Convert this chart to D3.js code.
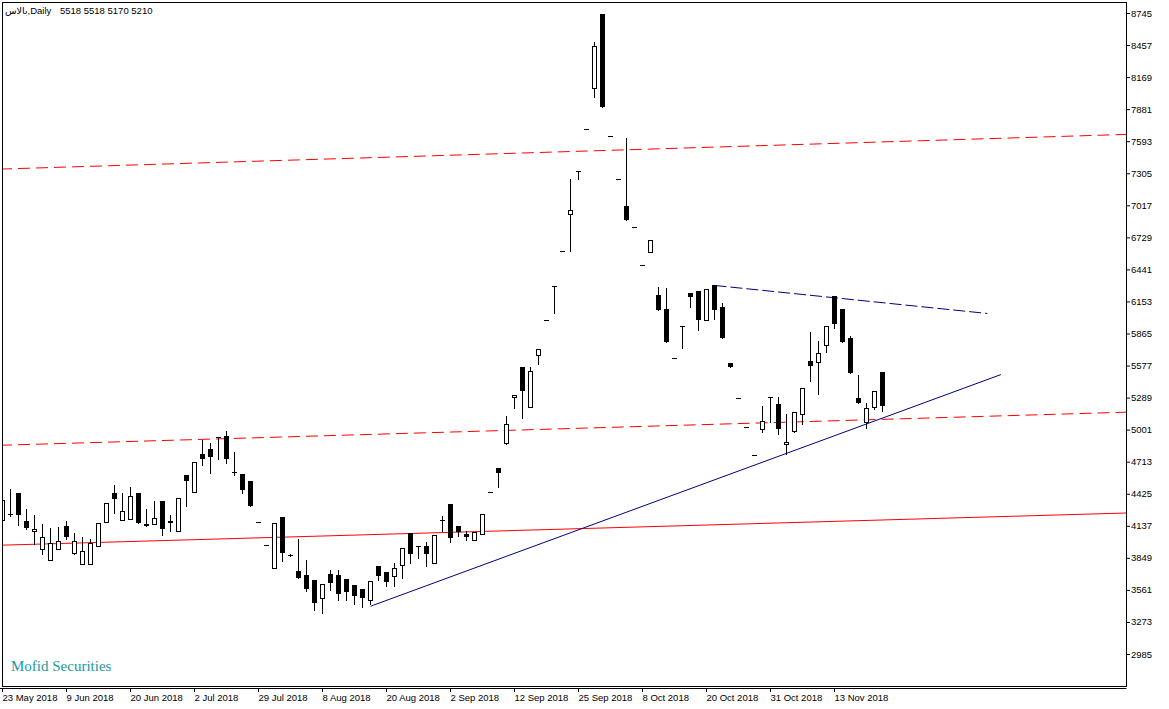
<!DOCTYPE html>
<html>
<head>
<meta charset="utf-8">
<script src="https://cdn.jsdelivr.net/npm/d3@7"></script>
<style>
    html, body { margin: 0; padding: 0; background: #fff; }
    svg { display: block; }
</style>
</head>
<body>
<script>
// Symbol and period shown in the top-left corner
var symbolName = "بالاس";
var period = "Daily";

// Date labels under the chart, one every 8 bars
var xLabels = ["23 May 2018", "9 Jun 2018", "20 Jun 2018", "2 Jul 2018", "29 Jul 2018",
    "8 Aug 2018", "20 Aug 2018", "2 Sep 2018", "12 Sep 2018", "25 Sep 2018",
    "8 Oct 2018", "20 Oct 2018", "31 Oct 2018", "13 Nov 2018"];
var xLabelBars = [0, 8, 16, 24, 32, 40, 48, 56, 64, 72, 80, 88, 96, 104];

// Price labels on the right
var yTicks = [8745, 8457, 8169, 7881, 7593, 7305, 7017, 6729, 6441, 6153, 5865,
    5577, 5289, 5001, 4713, 4425, 4137, 3849, 3561, 3273, 2985];

// Daily candles (open, high, low, close)
var opens = [4188, 4245, 4428, 4182, 4086, 3927, 3828, 3927, 4137, 3891,
    3792, 3792, 3954, 4170, 4428, 4188, 4194, 4434, 4152, 4152,
    4362, 4176, 4092, 4596, 4440, 4785, 4830, 4932, 4947, 4623,
    4605, 4542, 4173, 3966, 3762, 4218, 3876, 3732, 3696, 3651,
    3486, 3702, 3696, 3660, 3606, 3567, 3468, 3777, 3726, 3687,
    3783, 4068, 3951, 3957, 3801, 4188, 4332, 4137, 4065, 4005,
    4062, 4440, 4659, 4881, 5292, 5568, 5205, 5673, 5990, 6291,
    6603, 6936, 7328, 7703, 8074, 8736, 7637, 7251, 7011, 6819,
    6478, 6600, 6211, 6082, 5646, 5934, 6225, 6243, 5985, 6297,
    6099, 5604, 5286, 5028, 4776, 5007, 5298, 5232, 4872, 4989,
    5142, 5622, 5610, 5763, 6198, 6081, 5829, 5289, 5070, 5202,
    5518];
var highs = [4368, 4470, 4428, 4290, 4236, 4152, 4116, 4128, 4176, 4071,
    4038, 4020, 4164, 4344, 4506, 4428, 4488, 4434, 4290, 4362,
    4362, 4236, 4386, 4596, 4710, 4908, 4884, 4935, 4992, 4803,
    4605, 4542, 4173, 3966, 4164, 4218, 3885, 4020, 3831, 3651,
    3612, 3741, 3741, 3660, 3606, 3567, 3642, 3777, 3726, 3801,
    3936, 4068, 3953, 3993, 4056, 4227, 4332, 4137, 4092, 4083,
    4245, 4440, 4659, 5127, 5313, 5568, 5568, 5727, 5990, 6294,
    6603, 7253, 7328, 7703, 8484, 8736, 7637, 7251, 7622, 6819,
    6478, 6705, 6280, 6271, 5646, 5934, 6225, 6243, 6261, 6297,
    6135, 5604, 5286, 5028, 4776, 5217, 5298, 5298, 5142, 5160,
    5376, 5874, 5802, 5934, 6198, 6081, 5841, 5496, 5241, 5352,
    5518];
var lows = [4188, 4228, 4140, 4104, 3972, 3888, 3828, 3927, 4020, 3882,
    3792, 3792, 3954, 4170, 4248, 4188, 4194, 4158, 4134, 4152,
    4050, 4092, 4092, 4311, 4440, 4680, 4608, 4734, 4704, 4596,
    4428, 4311, 4173, 3966, 3762, 3822, 3864, 3672, 3552, 3384,
    3354, 3564, 3474, 3474, 3432, 3411, 3430, 3648, 3597, 3597,
    3672, 3807, 3852, 3780, 3801, 4086, 3987, 4044, 4011, 4005,
    4062, 4440, 4488, 4872, 5193, 5103, 5205, 5592, 5990, 6048,
    6603, 6609, 7251, 7703, 7993, 7903, 7637, 7251, 6888, 6819,
    6478, 6600, 6076, 5791, 5646, 5733, 6102, 5892, 5985, 5994,
    5823, 5562, 5286, 5028, 4776, 4977, 5067, 4962, 4782, 4980,
    5052, 5442, 5322, 5697, 5916, 5787, 5508, 5238, 5016, 5190,
    5170];
var closes = [4368, 4232, 4230, 4116, 4110, 4038, 3978, 4002, 4032, 4002,
    3912, 3978, 4164, 4344, 4380, 4272, 4404, 4158, 4134, 4206,
    4104, 4164, 4386, 4536, 4710, 4734, 4752, 4923, 4734, 4608,
    4455, 4311, 4173, 3966, 4164, 3897, 3870, 3672, 3567, 3447,
    3612, 3627, 3528, 3546, 3507, 3492, 3642, 3687, 3636, 3762,
    3936, 3888, 3945, 3888, 4056, 4180, 4026, 4083, 4032, 4083,
    4245, 4440, 4608, 5052, 5313, 5346, 5529, 5727, 5990, 6294,
    6603, 6975, 7322, 7703, 8448, 7903, 7637, 7251, 6888, 6819,
    6478, 6705, 6076, 5791, 5646, 5928, 6192, 5982, 6261, 6075,
    5823, 5562, 5286, 5028, 4776, 5079, 5292, 5007, 4890, 5160,
    5376, 5571, 5691, 5934, 5952, 5787, 5508, 5238, 5199, 5352,
    5210];

// Drawn lines: [bar, price] anchor pairs
var redTop = [[0, 7343], [140, 7653]];
var redMid = [[0, 4861], [140, 5157]];
var redLow = [[0, 3963], [140, 4251]];
var blueUp = [[46, 3414], [124.8, 5496]];
var blueDown = [[89, 6297], [123.1, 6045]];

window.onload = function(){

    var w = 1169, h = 709;
    var left = 2.5, right = 1126.5, top = 2.5, bottom = 686.5;
    var labelFont = "'Liberation Sans', Arial, sans-serif";

    var svg = d3.select("body")
        .append("svg")
        .attr("width", w)
        .attr("height", h)
        .style("background-color", "#fff");

    // bar index -> x, 8 px per bar
    var x = d3.scaleLinear()
        .domain([0, 140])
        .range([2.5, 1122.5]);

    var y = d3.scaleLinear()
        .domain([2985, 8745])
        .range([654, 13]);

    svg.append("clipPath")
        .attr("id", "plot")
        .append("rect")
        .attr("x", 3).attr("y", 3)
        .attr("width", right - 3).attr("height", bottom - 3);

    var plot = svg.append("g").attr("clip-path", "url(#plot)");

    // Watermark
    svg.append("text")
        .attr("x", 11)
        .attr("y", 671)
        .style("font-family", "'Liberation Serif', serif")
        .style("font-size", "15px")
        .style("fill", "#1a9a9a")
        .text("Mofid Securities");

    // Red lines run across the whole chart, blue ones are segments
    function rayPoints(line){
        var x0 = x(line[0][0]), y0 = y(line[0][1]);
        var x1 = x(line[1][0]), y1 = y(line[1][1]);
        var k = (y1 - y0) / (x1 - x0);
        return [[0, y0 - k * x0], [w, y0 + k * (w - x0)]];
    }
    function segPoints(line){
        return line.map(function(p){ return [x(p[0]), y(p[1])]; });
    }
    var lineGen = d3.line();

    [redTop, redMid].forEach(function(l){
        plot.append("path")
            .attr("d", lineGen(rayPoints(l)))
            .attr("stroke", "#ff0000")
            .attr("stroke-width", 1)
            .attr("stroke-dasharray", "12,6")
            .attr("fill", "none");
    });
    plot.append("path")
        .attr("d", lineGen(rayPoints(redLow)))
        .attr("stroke", "#ff0000")
        .attr("stroke-width", 1)
        .attr("fill", "none");

    plot.append("path")
        .attr("d", lineGen(segPoints(blueUp)))
        .attr("stroke", "#000080")
        .attr("stroke-width", 1)
        .attr("fill", "none");
    plot.append("path")
        .attr("d", lineGen(segPoints(blueDown)))
        .attr("stroke", "#000080")
        .attr("stroke-width", 1)
        .attr("stroke-dasharray", "12,4")
        .attr("fill", "none");

    // Candles
    var bars = d3.range(opens.length).map(function(i){
        return { i: i, o: opens[i], h: highs[i], l: lows[i], c: closes[i] };
    });

    var candle = plot.selectAll(".candle")
        .data(bars)
        .enter()
        .append("g")
        .attr("class", "candle");

    // wick
    candle.filter(function(d){ return d.h > d.l; })
        .append("line")
        .attr("x1", function(d){ return x(d.i); })
        .attr("x2", function(d){ return x(d.i); })
        .attr("y1", function(d){ return Math.round(y(d.h)); })
        .attr("y2", function(d){ return Math.round(y(d.l)) + 1; })
        .attr("stroke", "#000")
        .attr("stroke-width", 1);

    // bearish / flat body: solid black
    candle.filter(function(d){ return d.c <= d.o || Math.round(y(d.o)) - Math.round(y(d.c)) < 1; })
        .append("rect")
        .attr("x", function(d){ return x(d.i) - 2.5; })
        .attr("y", function(d){ return Math.round(y(Math.max(d.o, d.c))); })
        .attr("width", 5)
        .attr("height", function(d){
            return Math.max(1, Math.round(y(Math.min(d.o, d.c))) - Math.round(y(Math.max(d.o, d.c))));
        })
        .attr("fill", "#000");

    // bullish body: white with black outline
    candle.filter(function(d){ return d.c > d.o && Math.round(y(d.o)) - Math.round(y(d.c)) >= 1; })
        .append("rect")
        .attr("x", function(d){ return x(d.i) - 2; })
        .attr("y", function(d){ return Math.round(y(d.c)) + 0.5; })
        .attr("width", 4)
        .attr("height", function(d){ return Math.round(y(d.o)) - Math.round(y(d.c)); })
        .attr("fill", "#fff")
        .attr("stroke", "#000")
        .attr("stroke-width", 1);

    // Frame
    svg.append("rect")
        .attr("x", left).attr("y", top)
        .attr("width", right - left).attr("height", bottom - top)
        .attr("fill", "none")
        .attr("stroke", "#000")
        .attr("stroke-width", 1);
    svg.append("line")
        .attr("x1", 0).attr("x2", right)
        .attr("y1", 688.5).attr("y2", 688.5)
        .attr("stroke", "#000");

    // Price axis
    var yAxis = d3.axisRight(y)
        .tickValues(yTicks)
        .tickSize(4)
        .tickPadding(1)
        .tickFormat(d3.format("d"));
    var ya = svg.append("g")
        .attr("transform", "translate(" + (right - 0.5) + ",0)")
        .call(yAxis);
    ya.select(".domain").remove();
    ya.selectAll("text")
        .style("font-family", labelFont)
        .style("font-size", "9.5px")
        .attr("fill", "#000");

    // Date axis
    var xAxis = d3.axisBottom(x)
        .tickValues(xLabelBars)
        .tickSize(4)
        .tickPadding(2)
        .tickFormat(function(d, i){ return xLabels[i]; });
    var xa = svg.append("g")
        .attr("transform", "translate(-0.5,688)")
        .call(xAxis);
    xa.select(".domain").remove();
    xa.selectAll("text")
        .attr("text-anchor", "start")
        .attr("x", 0)
        .style("font-family", labelFont)
        .style("font-size", "9.5px")
        .attr("fill", "#000");

    // Title with last bar values
    var last = opens.length - 1;
    svg.append("text")
        .attr("x", 5)
        .attr("y", 14)
        .style("font-family", "'Liberation Sans', 'DejaVu Sans', sans-serif")
        .style("font-size", "9.5px")
        .text(symbolName + "," + period);
    svg.append("text")
        .attr("x", 60)
        .attr("y", 14)
        .style("font-family", labelFont)
        .style("font-size", "9.5px")
        .text([opens[last], highs[last], lows[last], closes[last]].join(" "));
};
</script>
</body>
</html>
